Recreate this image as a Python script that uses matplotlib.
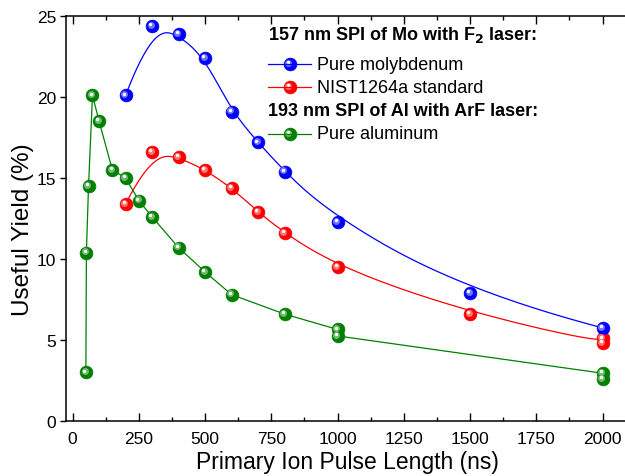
import numpy as np
import matplotlib
matplotlib.use("Agg")
import matplotlib.pyplot as plt
import matplotlib.transforms as mtransforms
from matplotlib.lines import Line2D
from matplotlib.ticker import MultipleLocator

plt.rcParams['font.family'] = ['Liberation Sans', 'DejaVu Sans']

# data
mo_x = [200, 300, 400, 500, 600, 700, 800, 1000, 1500, 2000]
mo_y = [20.1, 24.4, 23.9, 22.4, 19.1, 17.2, 15.4, 12.3, 7.9, 5.75]

nist_x = [200, 300, 400, 500, 600, 700, 800, 1000, 1500, 2000, 2000]
nist_y = [13.4, 16.6, 16.3, 15.5, 14.4, 12.9, 11.6, 9.5, 6.6, 4.8, 5.1]

al_x = [50, 52, 60, 75, 100, 150, 200, 250, 300, 400, 500, 600, 800, 1000, 1000, 2000, 2000]
al_y = [3.0, 10.4, 14.5, 20.1, 18.5, 15.5, 15.0, 13.6, 12.6, 10.7, 9.2, 7.8, 6.6, 5.65, 5.25, 2.95, 2.6]

BLUE = '#0000ff'
RED = '#ff0000'
GREEN = '#008000'


def bspline(xs, ys, num=400):
    # clamped cubic B-spline using the points as control points (Origin style)
    P = np.column_stack([xs, ys]).astype(float)
    n = len(P)
    k = 3
    knots = np.concatenate([np.zeros(k), np.arange(n - k + 1), np.full(k, n - k)]).astype(float)
    t = np.linspace(0, n - k - 1e-9, num)

    def basis(i, d):
        if d == 0:
            return ((knots[i] <= t) & (t < knots[i + 1])).astype(float)
        out = np.zeros_like(t)
        den1 = knots[i + d] - knots[i]
        den2 = knots[i + d + 1] - knots[i + 1]
        if den1 > 0:
            out += (t - knots[i]) / den1 * basis(i, d - 1)
        if den2 > 0:
            out += (knots[i + d + 1] - t) / den2 * basis(i + 1, d - 1)
        return out

    curve = np.zeros((num, 2))
    for i in range(n):
        curve += basis(i, k)[:, None] * P[i]
    return curve[:, 0], curve[:, 1]


def lighten(color, f):
    c = np.array(matplotlib.colors.to_rgb(color))
    return tuple(c + (1 - c) * f)


def balls(ax, x, y, color, transform):
    # shaded sphere markers
    ax.plot(x, y, 'o', ms=9.2, mfc=color, mec=color, mew=0.5, transform=transform,
            zorder=5, clip_on=False)
    hi = mtransforms.offset_copy(transform, fig=ax.figure, x=-1.2, y=1.2, units='dots')
    ax.plot(x, y, 'o', ms=5, mfc=lighten(color, 0.45), mec='none', transform=hi,
            zorder=6, clip_on=False)
    hi2 = mtransforms.offset_copy(transform, fig=ax.figure, x=-1.8, y=1.8, units='dots')
    ax.plot(x, y, 'o', ms=2.4, mfc='white', mec='none', transform=hi2,
            zorder=7, clip_on=False)


fig = plt.figure(figsize=(6.25, 4.77), dpi=100)
ax = fig.add_axes([0.1056, 0.1153, 0.9008, 0.8491])

bx, by = bspline(mo_x, mo_y)
ax.plot(bx, by, color=BLUE, lw=0.9, zorder=3)
rx, ry = bspline(nist_x, nist_y)
ax.plot(rx, ry, color=RED, lw=0.9, zorder=3)
ax.plot(al_x, al_y, color=GREEN, lw=0.9, zorder=3)

balls(ax, al_x, al_y, GREEN, ax.transData)
balls(ax, nist_x, nist_y, RED, ax.transData)
balls(ax, mo_x, mo_y, BLUE, ax.transData)

ax.set_xlim(-25, 2100)
ax.set_ylim(0, 25)
ax.xaxis.set_major_locator(MultipleLocator(250))
ax.xaxis.set_minor_locator(MultipleLocator(125))
ax.yaxis.set_major_locator(MultipleLocator(5))
ax.tick_params(axis='x', which='both', direction='in', top=True, labelsize=12.5, pad=7)
ax.tick_params(axis='x', which='major', length=6, width=1)
ax.tick_params(axis='x', which='minor', length=3, width=1)
ax.tick_params(axis='y', which='major', direction='out', length=4, width=1, labelsize=12.5, pad=3)
for s in ax.spines.values():
    s.set_linewidth(1.1)

ax.set_xlabel('Primary Ion Pulse Length (ns)', fontsize=16.5, labelpad=3)
# y label placed by hand, slightly lower than the axes centre as in the original
fig.text(23 / 625, 1 - 230 / 477, 'Useful Yield (%)', fontsize=17.5, rotation=90,
         ha='center', va='center')

# legend drawn by hand, headers are bold and sit left of the entry text
tf = fig.transFigure
fig.text(0.4288, 0.9266, '157 nm SPI of Mo with F$_\\mathbf{2}$ laser:', fontsize=13,
         fontweight='bold', va='center', ha='left')
fig.text(0.4288, 0.7652, '193 nm SPI of Al with ArF laser:', fontsize=13,
         fontweight='bold', va='center', ha='left')
entries = [('Pure molybdenum', BLUE, 0.8637),
           ('NIST1264a standard', RED, 0.8155),
           ('Pure aluminum', GREEN, 0.7170)]
for label, color, yy in entries:
    fig.add_artist(Line2D([0.4288, 0.4976], [yy, yy], color=color, lw=0.9, transform=tf))
    balls(ax, [0.4632], [yy], color, tf)
    fig.text(0.5072, yy, label, fontsize=13, va='center', ha='left')

fig.savefig('out.png', dpi=100)
